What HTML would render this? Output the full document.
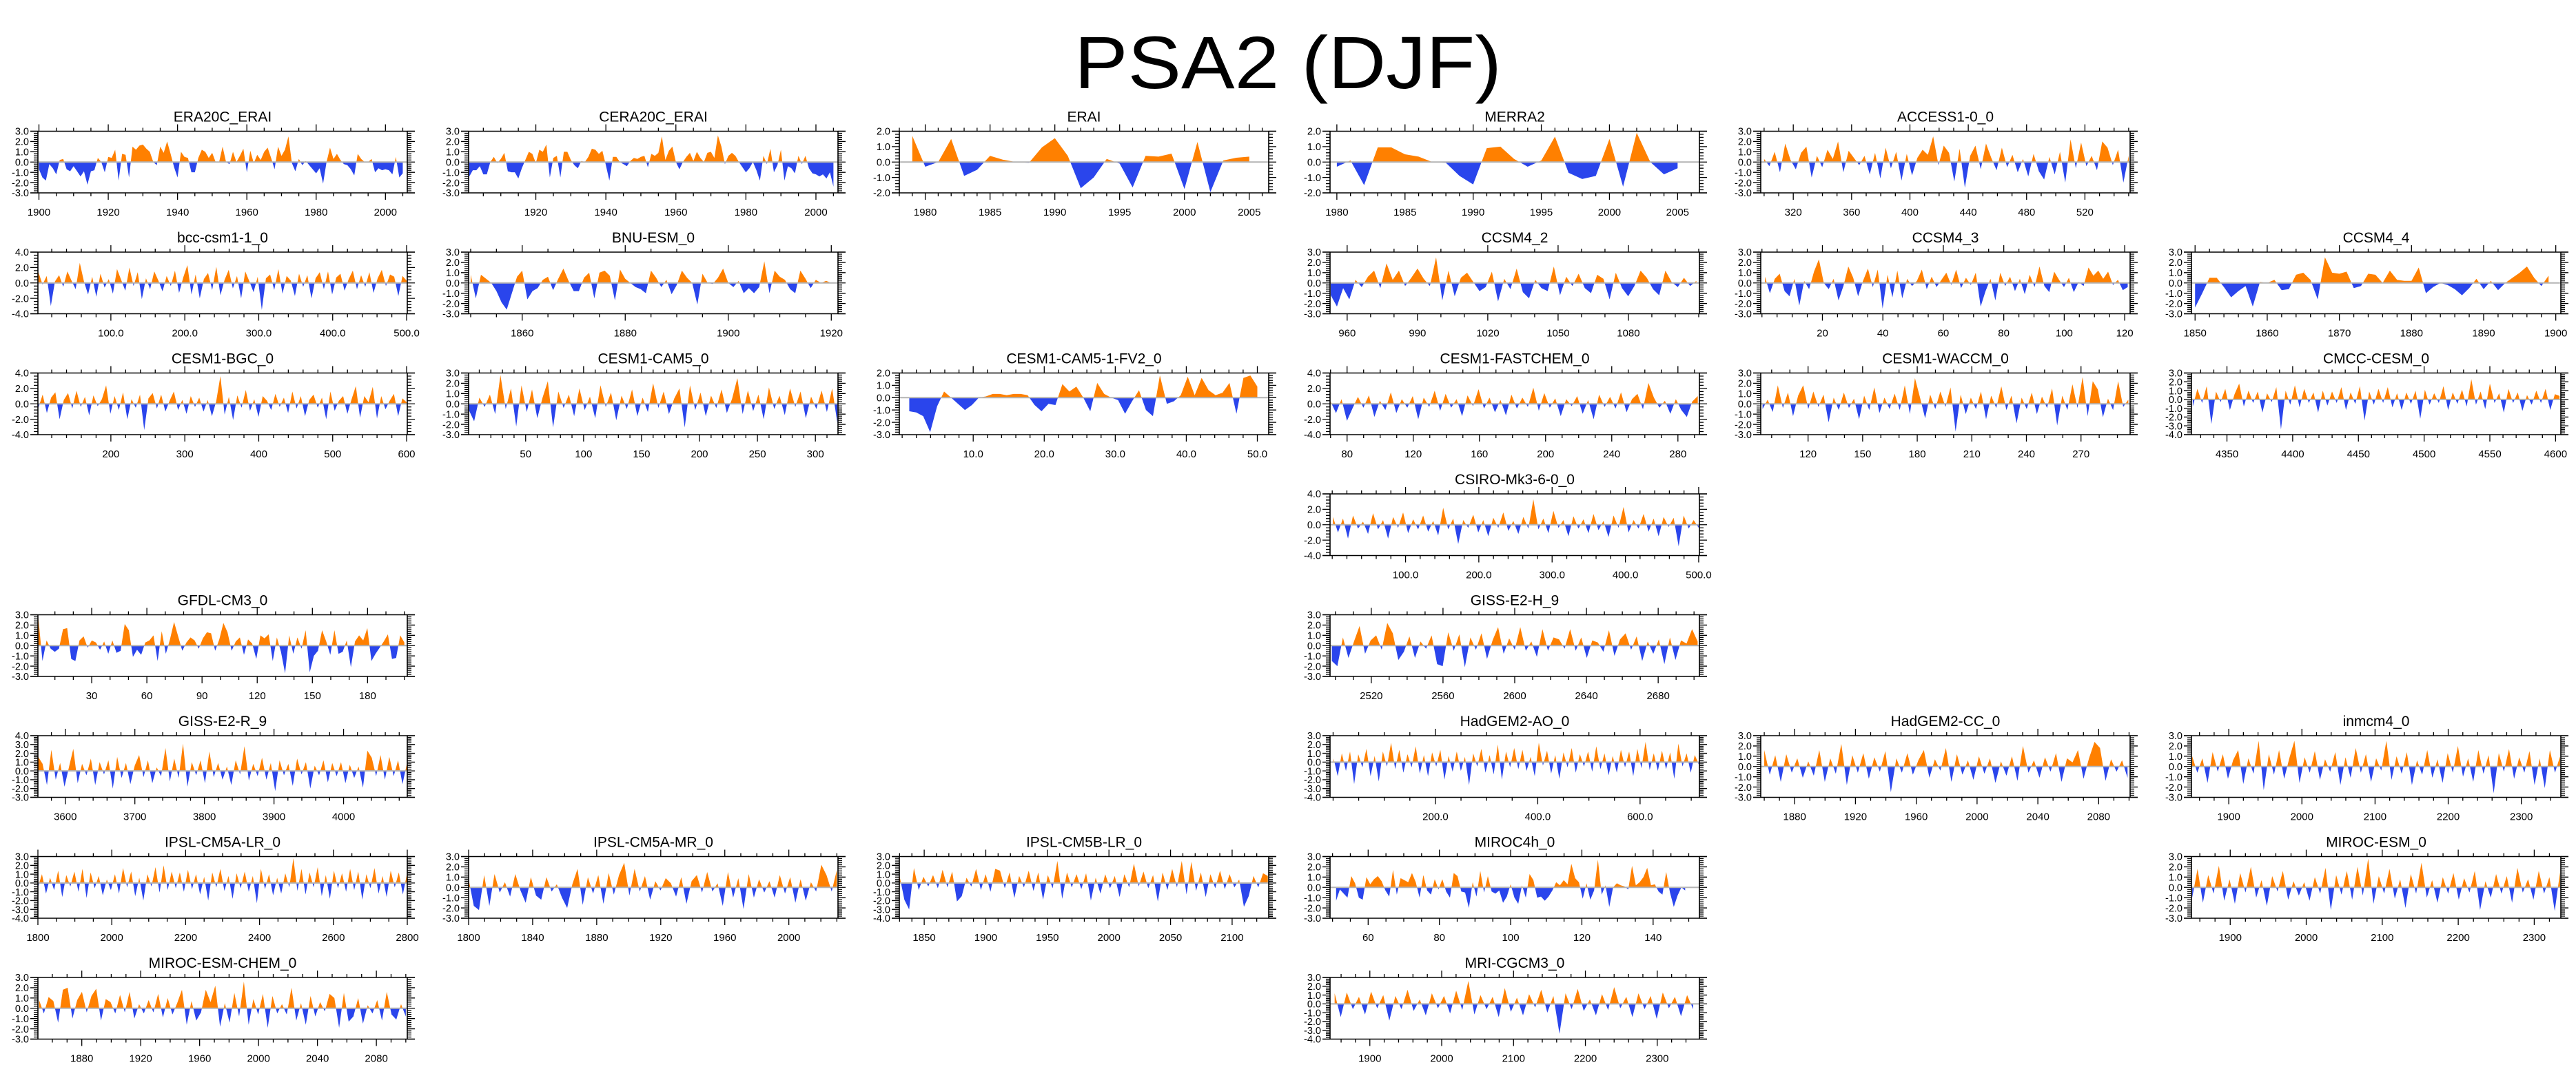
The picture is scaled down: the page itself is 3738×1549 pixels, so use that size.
<!DOCTYPE html>
<html><head><meta charset="utf-8"><title>PSA2 (DJF)</title>
<style>
html,body{margin:0;padding:0;background:#fff;}
svg{display:block;font-family:"Liberation Sans",Arial,sans-serif;}
</style></head>
<body>
<svg id="fig" width="3738" height="1549" viewBox="0 0 3738 1549" xmlns="http://www.w3.org/2000/svg">
<rect x="0" y="0" width="3738" height="1549" fill="#fff"/>
<text x="1869" y="128" text-anchor="middle" font-size="108" textLength="620" lengthAdjust="spacingAndGlyphs">PSA2 (DJF)</text>
<g id="panels"></g>
</svg>
<script>
const era20cValues=[-0.7,-1.5,-1.8,-0.2,-0.6,-1.2,0.2,0.3,-0.7,-0.9,-0.4,-0.9,-1.4,-0.9,-2.2,-0.9,-0.8,0.4,0.0,-1.0,0.5,0.4,1.2,-1.8,0.8,0.7,-1.5,1.5,1.2,1.6,1.7,1.3,1.0,0.0,-0.3,1.5,0.9,2.0,0.8,-0.5,-1.5,1.0,0.5,0.4,-1.0,-1.0,0.4,1.2,1.0,0.4,0.9,0.0,0.0,1.5,0.0,-0.2,1.0,0.0,0.6,1.3,-1.0,1.1,-0.1,0.7,0.2,1.0,1.4,0.4,-0.7,1.5,0.6,1.2,2.5,-0.1,-0.9,0.3,-0.3,0.1,-0.3,-0.7,-1.1,-0.6,-2.1,0.0,1.4,0.3,0.8,0.2,-0.2,-0.3,-0.7,-1.3,0.8,0.3,0.0,0.0,0.3,-1.0,-0.6,-0.8,-0.7,-0.8,-1.2,0.5,-1.5,-1.1];
const cera20cValues=[-1.4,-0.8,-0.8,-0.4,-1.2,-1.2,0.0,0.5,-0.1,0.3,0.9,-0.9,-1.0,-1.0,-1.6,-0.6,0.2,1.0,0.8,-0.1,1.2,1.0,1.7,-1.5,0.4,0.6,-1.5,1.0,1.0,0.2,-0.3,-0.6,0.1,0.0,0.5,1.3,1.2,0.8,1.1,-0.3,-1.8,0.5,0.5,0.0,-0.2,-0.4,0.1,0.4,0.3,0.5,0.6,-0.5,0.8,0.6,0.9,2.5,0.2,1.1,1.5,0.0,-0.7,0.0,0.5,0.9,0.1,1.0,0.4,0.0,0.9,1.0,0.4,2.6,1.5,-0.2,0.6,0.9,0.6,0.0,-0.5,-1.0,-0.6,0.0,-0.8,-1.8,0.6,-0.2,1.3,-1.0,-0.3,1.2,-1.8,-0.4,-0.6,-1.1,0.6,-0.2,0.6,-0.6,-1.1,-1.2,-1.4,-1.2,-1.6,-1.0,-2.4];
const eraiValues=[1.7,-0.3,0.0,1.5,-0.9,-0.5,0.4,0.15,0.0,-0.05,0.95,1.55,0.4,-1.7,-1.0,0.2,-0.1,-1.65,0.4,0.35,0.55,-1.75,1.3,-1.95,0.1,0.28,0.35];
const merra2Values=[-0.3,0.1,-1.5,0.95,0.95,0.5,0.35,0.0,-0.05,-0.9,-1.45,0.9,1.0,0.2,-0.3,0.1,1.65,-0.7,-1.1,-0.9,1.5,-1.6,1.9,0.0,-0.8,-0.4];
const access10Values=[0.3,-0.4,1.0,-1.0,1.8,0.2,-0.7,0.9,1.5,-1.5,0.6,-0.5,1.2,0.3,2.0,-1.0,1.1,0.4,-0.3,0.6,-1.2,0.9,-1.6,1.4,-0.6,1.0,-1.8,0.8,-1.3,0.4,1.2,0.7,2.5,-0.3,1.6,0.9,-1.9,1.3,-2.5,0.6,1.6,-0.7,1.8,0.4,-0.8,1.4,-0.5,0.7,-1.0,0.3,-1.4,0.8,-0.9,-1.7,0.5,-1.2,1.0,-2.0,2.2,-0.6,1.9,-0.4,0.6,-0.8,2.0,1.4,-0.3,1.2,-2.0,0.6];
const bccValues=[1.4,-0.2,0.9,-3.0,0.2,1.0,-0.5,1.5,0.3,-0.8,2.6,0.2,-1.5,0.8,-1.8,1.2,-0.6,0.5,-1.4,1.8,0.4,-1.0,2.0,-0.4,1.4,-2.1,0.6,-0.8,1.5,0.3,-1.1,0.9,-0.4,1.6,-1.3,0.7,2.3,-1.5,1.1,-2.0,0.5,1.3,-0.9,2.1,-1.6,0.4,1.7,-0.7,0.9,-2.0,1.5,0.2,-1.2,0.8,-3.5,0.6,1.1,-0.9,1.8,-1.4,0.9,0.3,-1.7,1.2,-0.5,1.0,-2.0,0.6,1.4,-0.8,1.5,-1.5,0.7,1.2,-1.0,0.5,1.6,-0.8,1.0,-0.5,1.4,-1.3,0.6,1.7,-0.4,1.1,0.8,-1.7,0.9,0.3];
const bnuValues=[0.8,-1.5,0.8,0.4,0.0,-0.8,-1.9,-2.6,-1.0,0.6,1.2,-1.6,-0.8,-0.5,0.3,0.6,-0.7,0.4,1.4,0.2,-0.8,-0.8,0.5,1.0,-1.5,1.0,1.2,0.7,-1.7,1.3,0.4,0.0,-0.4,-0.6,-1.0,1.2,0.5,-0.4,0.3,-1.1,-0.2,1.2,0.5,0.0,-2.1,0.9,0.0,-0.1,0.5,1.4,0.0,-0.4,0.2,-1.0,-0.5,-1.0,-0.4,2.1,-1.0,1.2,0.6,0.3,-0.6,-1.0,1.2,0.4,-0.5,0.3,0.0,0.2,0.0];
const ccsm42Values=[-1.2,-2.3,-0.5,-1.6,0.3,-0.4,0.6,1.2,-0.5,1.9,0.3,1.2,-0.3,0.5,1.4,0.4,-0.3,2.5,-1.7,1.2,-1.3,0.5,1.0,0.1,-0.8,-0.4,1.1,-1.8,0.4,-0.6,1.4,-0.9,-1.5,0.3,-0.5,-0.8,1.6,-1.2,0.6,-0.3,0.9,-0.5,-1.0,0.8,0.4,-1.6,1.0,-0.5,-1.3,-0.3,1.2,0.5,-0.6,-1.2,1.2,0.1,-0.4,0.5,-0.3,0.2];
const ccsm43Values=[0.6,-1.0,0.4,0.9,-0.8,-1.3,0.4,-2.2,0.2,-0.6,1.1,2.3,0.0,-0.6,0.4,-1.7,-0.3,1.6,0.5,-1.3,0.2,1.4,-0.4,1.3,-2.5,0.8,-1.4,1.2,-1.5,0.4,-0.3,0.2,1.3,-0.6,0.6,-0.4,0.3,1.0,-0.2,1.3,-0.5,0.5,-0.2,1.0,-2.3,-0.8,0.4,-1.7,1.0,-0.3,0.6,-0.8,0.4,-1.1,0.8,-0.4,1.6,-0.3,-0.9,1.1,0.3,-0.4,0.5,-0.9,0.1,-0.3,1.5,0.7,1.2,0.4,1.1,-0.2,0.3,-0.7,-0.4];
const ccsm44Values=[-2.4,-1.0,0.5,0.5,-0.4,-1.4,-0.8,-0.3,-2.3,0.1,0.0,0.3,-0.7,-0.6,0.8,1.0,0.3,-1.6,2.5,1.0,0.9,1.1,-0.5,-0.3,0.9,0.8,0.0,1.2,0.3,0.2,0.2,1.5,-1.0,-0.4,0.0,-0.2,-0.6,-1.2,-0.5,0.4,-0.6,0.2,-0.7,0.0,0.5,1.0,1.6,0.5,-0.3,0.7];
const cesmBgcValues=[-0.5,1.2,-1.2,0.8,1.5,-2.0,0.5,1.4,-0.6,1.7,-0.4,0.9,-1.5,1.1,-0.3,0.6,2.4,-1.3,1.0,-0.8,1.5,-2.0,0.6,-0.5,1.2,-3.4,0.7,1.4,-0.6,1.2,-1.0,0.4,1.6,-0.8,0.5,-1.3,1.0,-0.4,0.8,-1.0,0.5,-1.6,0.3,3.6,-1.4,0.9,-2.1,1.1,-0.5,1.8,-0.9,0.6,-1.7,1.0,0.4,-0.8,1.3,-0.4,0.8,-1.2,1.6,-0.6,1.0,-1.6,0.5,1.2,-0.5,0.8,-2.0,1.6,-0.9,0.4,1.0,-1.3,0.6,2.3,-1.8,1.0,0.2,2.2,-1.9,1.0,-0.7,0.4,1.3,-1.6,0.7,0.2];
const cesmCam5Values=[-0.6,-1.7,0.6,-0.3,0.9,-1.0,2.8,-0.5,1.5,-2.2,1.8,-0.8,1.4,-1.4,0.6,2.2,-2.3,1.2,-0.4,0.9,-1.2,1.5,-0.6,0.7,-1.4,1.8,-0.3,1.1,-1.6,0.8,-0.5,1.4,-1.2,0.6,-0.8,2.0,-0.4,1.2,-1.0,0.5,1.5,-2.3,1.8,-0.6,1.1,-1.2,0.8,-0.4,1.4,-0.9,0.5,2.5,-1.0,1.3,-0.7,0.9,-1.5,1.6,-0.5,0.8,-1.1,1.5,-0.3,1.2,-1.4,0.7,-0.5,1.3,-0.8,1.5,-1.9];
const fv2Values=[-1.1,-1.2,-1.5,-2.8,-0.7,0.5,0.0,-0.5,-1.0,-0.6,0.0,0.1,0.3,0.3,0.2,0.3,0.3,0.2,-0.6,-1.1,-0.5,-0.6,1.1,0.5,0.9,0.0,-1.1,1.2,0.3,0.0,-0.2,-1.3,-0.3,0.6,-1.0,-1.5,1.8,-0.5,-0.3,0.2,1.7,0.2,1.6,0.6,0.2,0.4,1.2,-1.3,1.6,1.8,0.9];
const fastchemValues=[0.3,-1.2,0.6,-2.2,-0.6,0.9,-0.5,1.1,-1.7,0.4,-0.8,1.5,-1.2,0.6,-0.5,1.0,-2.0,0.8,-0.4,1.7,-0.9,1.3,-0.5,0.6,-1.6,1.1,-0.3,1.9,-0.6,0.8,-1.1,0.5,-1.5,1.2,-0.6,0.8,-0.4,2.1,-0.9,1.4,-0.5,0.7,-1.6,0.6,-0.3,1.0,-1.3,0.5,-2.0,1.2,-0.4,0.9,-0.6,1.5,-1.1,0.6,1.3,-0.7,2.7,0.8,-0.5,0.4,-1.3,0.6,-0.8,-1.7,0.3,1.0];
const waccmValues=[-0.5,0.4,-0.8,1.8,-0.4,1.1,-1.2,0.8,1.8,-0.5,1.2,-0.3,0.9,-1.8,0.6,-0.6,1.1,-0.4,0.5,-1.5,0.8,-0.6,1.6,-0.9,0.6,-0.5,1.0,-0.6,1.8,-1.0,2.5,0.6,-1.4,0.9,-0.5,1.2,-0.3,1.6,-2.7,0.9,-1.0,0.6,-0.5,1.2,-1.5,0.8,-0.4,1.7,-0.6,0.8,-1.9,0.6,-0.5,1.1,-1.0,0.7,-0.4,1.5,-2.1,0.8,-0.6,1.9,-0.4,2.6,-1.2,2.2,1.4,-1.3,0.5,-0.6,2.2,-0.3,0.4];
const cmccValues=[-0.8,1.2,-0.4,1.5,-2.8,0.9,-0.3,1.2,-1.2,0.6,1.8,-0.8,1.0,-0.4,0.9,-1.5,0.7,-0.3,1.4,-3.4,1.0,-0.6,1.6,-0.9,1.2,-0.4,0.8,-1.5,1.0,-0.7,0.9,-0.4,1.4,-1.2,0.8,-0.5,1.5,-2.4,0.9,-0.6,1.2,-0.4,1.4,-0.9,0.7,-1.2,0.8,-0.5,1.0,-2.2,1.1,-0.6,0.7,-0.4,1.5,-1.2,0.8,-0.5,1.1,-0.8,2.3,-0.6,0.9,-1.1,1.8,-0.4,0.7,-1.5,1.2,-0.4,0.8,-1.3,0.5,-0.6,1.0,-0.4,1.2,-1.2,0.6,0.4];
const csiroValues=[1.0,-1.0,0.8,-1.8,1.2,-0.5,0.4,-1.2,1.5,-0.6,0.6,-1.8,1.0,-0.4,1.6,-1.1,0.7,-0.6,1.2,-0.9,0.5,-1.4,2.2,-0.6,0.8,-2.5,0.6,-0.4,1.3,-1.0,0.6,-1.5,0.9,-0.4,1.6,-0.8,0.5,-1.2,1.0,-0.5,3.3,-0.6,0.8,-1.1,1.8,-0.4,0.6,-1.5,1.1,-0.5,0.7,-1.1,1.4,-0.7,0.5,-1.6,1.2,-0.4,2.3,-1.0,0.6,-0.5,1.4,-0.9,0.8,-1.5,1.0,-0.3,0.9,-2.8,1.2,-0.5,0.6,-0.4];
const gfdlValues=[2.7,-1.5,0.5,-0.3,-0.6,-0.3,1.6,1.7,-1.3,-1.5,0.5,0.9,-0.2,0.5,0.3,-0.4,0.4,-0.8,0.5,-0.7,-0.5,2.1,1.5,-1.1,-0.4,-0.9,0.3,0.5,1.0,-1.5,1.4,-0.8,0.6,2.3,0.9,-0.5,0.3,0.8,0.5,-0.3,0.7,1.3,1.2,-0.5,0.6,2.2,1.3,-0.5,0.4,0.8,-0.9,0.6,0.2,-1.3,1.0,0.7,1.1,-1.5,0.8,-0.6,-2.7,1.0,-0.8,0.8,-0.3,1.5,-2.6,-1.0,-0.5,1.5,0.4,-0.9,1.5,-0.8,-0.6,0.5,-2.1,0.4,1.0,0.5,1.7,-1.5,-0.8,-0.2,0.4,1.1,-1.3,-1.2,1.0,0.3];
const gissHValues=[-1.5,-2.0,0.8,-1.2,0.4,1.9,-0.8,0.5,1.0,-0.4,2.2,1.2,-1.4,-0.6,0.9,-1.2,0.4,-0.3,1.0,-1.8,-2.0,1.3,-0.5,1.1,-2.1,0.8,-0.4,1.2,-1.3,0.5,1.8,-0.8,0.7,-0.4,1.8,-0.5,0.4,-1.1,1.6,-0.5,0.8,0.6,-0.3,1.6,-0.5,0.8,-1.2,0.5,0.3,-0.6,1.5,-1.0,0.6,1.2,-0.4,0.9,-1.5,0.4,-0.8,0.6,-1.8,0.8,-1.4,0.5,0.2,1.6,0.4];
const gissRValues=[1.6,0.8,-1.6,2.4,-1.0,0.9,-1.8,0.4,2.5,-1.4,0.8,-0.5,1.4,-1.6,1.0,-0.4,1.2,-2.0,1.6,-0.8,0.9,-1.5,0.6,1.8,-0.7,1.2,-1.4,0.4,-0.6,2.6,-1.2,1.4,-0.8,3.1,-1.8,1.0,-0.5,1.2,-1.4,2.2,-0.7,0.9,-1.0,0.5,-1.6,1.2,-0.4,2.8,-1.1,0.8,-0.6,1.5,-1.0,0.9,-2.3,1.2,-0.5,0.8,-1.7,1.4,-0.4,1.0,-2.0,0.6,-0.5,1.2,-1.3,0.9,-0.6,1.0,-1.4,0.7,-0.8,0.5,-1.9,2.3,1.5,-0.6,1.8,-1.0,1.6,-0.6,1.2,-1.5,0.8];
const hadAoValues=[0.4,-1.6,1.0,-1.0,1.2,-2.5,0.9,-0.6,1.5,-1.6,0.7,-2.2,1.2,-0.5,2.2,-0.8,1.4,-1.2,0.9,-0.6,1.8,-1.3,0.8,-1.6,1.1,-0.5,1.4,-2.0,0.7,-1.1,1.2,-1.0,0.6,-2.6,1.0,-0.5,1.5,-1.2,0.8,-1.4,2.0,-2.0,1.2,-0.6,1.6,-0.8,1.4,-1.0,0.6,-1.6,2.2,-0.4,1.3,-1.3,0.8,-1.9,1.1,-0.6,1.6,-1.2,0.9,-0.5,1.2,-1.1,1.8,-0.8,1.0,-1.5,0.7,-1.2,1.4,-0.6,1.2,-1.6,1.5,-0.7,2.3,-0.9,1.0,-1.0,1.3,-0.8,1.1,-1.9,2.1,-0.5,1.0,-1.2,0.8,-0.3];
const hadCcValues=[1.6,-0.8,1.1,-1.5,1.2,-0.6,0.8,-1.1,0.5,-0.9,1.6,-1.5,0.8,-0.7,2.2,-1.8,1.1,-0.6,1.3,-1.2,0.9,-0.5,1.5,-2.5,0.8,-0.6,1.3,-0.8,0.6,1.6,-1.1,0.7,-0.4,1.8,-1.5,1.2,-0.8,0.6,-1.3,1.0,-0.7,0.8,-1.6,0.5,-0.9,1.0,-1.4,2.0,-0.6,0.6,-1.1,0.9,-0.5,1.3,-1.5,0.8,0.4,1.6,-1.2,0.8,2.4,1.8,-1.4,0.7,-0.5,0.6,-1.1];
const inmcmValues=[1.0,-0.6,0.8,-1.6,1.4,-0.5,1.2,-1.2,0.6,1.6,-1.7,0.8,-0.7,2.5,-2.3,1.2,-0.8,1.6,-1.2,0.8,2.5,-1.6,0.9,-0.6,1.5,-1.3,0.7,-0.5,1.4,-1.8,0.9,-1.1,1.8,-0.6,1.2,-1.5,0.8,-0.4,2.5,-1.3,1.0,-0.7,1.4,-1.8,0.6,-0.8,1.6,-1.1,0.7,-1.6,1.3,-0.6,2.0,-1.0,0.8,-1.5,1.6,-0.7,1.1,-2.6,1.3,-0.5,1.7,-1.2,0.9,-0.6,1.5,-1.8,0.8,-2.1,1.6,-0.6,1.0];
const ipslLrValues=[-0.5,1.0,-1.2,0.6,-0.8,1.4,-1.6,0.9,-0.4,1.3,-1.0,1.6,-1.7,1.2,-0.6,0.8,-1.4,0.4,-0.8,1.0,-1.2,1.7,-0.5,1.3,-1.5,0.6,-2.0,1.0,-0.4,1.8,-1.1,2.0,-0.8,1.3,-0.6,1.2,-1.0,1.5,-0.7,1.0,-1.3,0.7,-2.0,1.2,-0.5,1.6,-0.9,0.8,-1.8,1.1,-0.6,1.3,-1.0,0.8,-2.3,1.6,-0.7,1.0,-1.4,0.6,-1.2,1.1,-0.5,2.8,-0.9,1.6,-1.3,1.2,-0.5,1.8,-1.5,0.9,-1.8,1.4,-0.6,1.1,-1.0,1.6,-0.8,1.3,-1.9,1.0,-0.6,1.7,-1.2,0.8,-1.6,1.4,-0.5,1.2,-1.3,1.0];
const ipslMrValues=[0.8,-1.8,-2.2,1.2,-1.8,1.3,-0.5,0.5,-0.9,1.3,-0.3,-1.5,1.0,-0.8,-1.2,1.0,-0.4,0.3,-1.0,-2.0,0.3,1.8,-1.7,1.0,-0.6,1.2,-1.6,1.4,-0.7,1.2,2.4,-0.8,1.8,-0.4,1.1,-1.2,0.6,-0.3,0.9,0.4,-0.9,1.0,-1.6,0.6,1.2,-0.5,1.5,-0.4,0.4,-1.8,1.5,-1.0,0.9,-2.1,1.3,-1.0,0.8,-0.5,0.6,-1.0,1.2,-0.6,1.0,-1.5,0.8,-1.3,0.5,-0.4,2.2,1.2,-0.4,1.7];
const ipslBValues=[0.8,-1.9,-3.0,1.7,-0.8,0.7,-0.4,0.9,-0.6,1.5,-0.5,1.3,-2.1,-1.5,0.6,-0.4,1.6,-0.8,1.0,-1.0,1.6,1.4,-0.6,1.2,-1.7,0.8,-0.5,1.4,-0.9,1.2,-1.9,0.9,-0.6,2.5,-1.8,1.2,-0.5,1.0,-0.7,1.1,-2.0,0.6,-1.2,1.0,-0.6,0.8,-1.6,1.0,-0.5,2.2,-0.4,1.3,-0.6,0.9,-2.1,1.2,-0.8,1.6,-0.5,2.5,-1.3,2.4,-0.9,1.2,-1.6,1.0,-0.6,1.4,-0.7,1.0,-0.5,0.4,-2.7,-1.5,0.8,-0.5,1.1,0.8];
const miroc4hValues=[-1.3,-0.2,-0.6,-1.0,1.1,0.4,-1.0,-1.2,1.0,0.3,0.8,1.1,0.6,-0.3,-0.9,1.7,-0.7,0.9,0.7,0.5,1.4,0.5,-1.0,1.2,-0.3,-0.7,0.8,-0.2,0.8,-0.4,-1.0,1.4,1.1,-0.4,-0.5,-2.0,0.5,-0.9,1.6,-0.5,1.1,-0.4,-0.6,-0.3,-1.5,-0.9,0.3,-1.0,-1.6,0.2,-1.0,1.3,0.7,-1.0,-0.9,-1.3,-0.9,-0.3,0.5,0.2,0.7,0.3,2.3,0.9,0.5,-1.1,0.4,-1.2,-0.3,2.7,-0.7,0.2,-1.9,0.0,0.4,0.2,0.1,-0.2,2.1,0.2,0.5,1.0,1.9,0.2,0.3,-0.4,-0.7,1.5,-0.5,-1.9,-0.8,0.0,-0.3];
const mirocEsmValues=[-1.0,1.8,-1.5,1.2,-0.6,2.1,-1.3,0.8,-1.6,1.4,-0.5,2.0,-1.0,0.7,-1.8,1.1,-0.4,1.6,-1.2,0.6,-0.8,0.5,-1.3,1.0,-0.6,1.9,-2.2,1.2,-0.7,1.6,-1.2,2.0,-0.8,2.8,-1.6,1.1,-0.6,1.8,-1.1,0.8,-2.0,1.3,-0.6,2.4,-1.0,0.7,-1.5,1.0,-0.6,1.4,-1.2,0.9,-0.5,1.6,-2.2,0.6,-1.0,1.3,-0.6,1.1,-1.5,1.9,-0.5,0.8,-1.2,1.6,-0.6,1.0,-2.3,1.5];
const mirocChemValues=[0.8,-0.5,1.1,0.7,-1.4,1.8,2.0,-1.0,0.8,1.6,-0.4,1.2,1.9,-1.2,0.9,0.6,-0.5,1.3,-0.4,1.6,-1.0,0.4,-0.5,0.8,-0.4,1.4,-0.9,1.0,-0.6,0.5,1.8,-1.6,0.7,-1.2,-0.4,1.8,0.6,2.2,-1.8,0.5,-1.4,1.5,-0.8,2.6,-1.6,0.9,-0.6,1.4,-1.9,1.2,-0.5,0.4,-0.6,2.0,-1.2,0.5,-1.6,1.2,-0.8,0.6,-0.3,1.4,1.0,-1.9,1.5,-1.3,-0.8,1.0,-1.5,0.3,-0.5,0.8,-1.2,1.6,-0.6,-1.1,0.4,-0.8];
const mriValues=[1.2,-1.5,1.3,-0.6,0.8,-1.2,1.4,-0.5,1.0,-1.9,0.9,-0.6,1.6,-0.8,0.5,-1.3,1.2,-0.5,0.9,-1.1,1.5,-0.7,2.6,-1.2,1.0,-0.6,0.8,-1.5,1.8,-0.9,0.7,-1.3,1.1,-0.4,1.6,-1.0,0.9,-3.4,1.2,-0.6,1.7,-0.8,0.5,-1.3,1.1,-0.7,1.9,-0.5,0.8,-1.5,1.2,-0.6,0.9,-1.7,1.3,-0.5,0.8,-1.4,1.0,-0.6];

const panelNames=['ERA20C_ERAI','CERA20C_ERAI','ERAI','MERRA2','ACCESS1-0_0','bcc-csm1-1_0','BNU-ESM_0','CCSM4_2','CCSM4_3','CCSM4_4','CESM1-BGC_0','CESM1-CAM5_0','CESM1-CAM5-1-FV2_0','CESM1-FASTCHEM_0','CESM1-WACCM_0','CMCC-CESM_0','CSIRO-Mk3-6-0_0','GFDL-CM3_0','GISS-E2-H_9','GISS-E2-R_9','HadGEM2-AO_0','HadGEM2-CC_0','inmcm4_0','IPSL-CM5A-LR_0','IPSL-CM5A-MR_0','IPSL-CM5B-LR_0','MIROC4h_0','MIROC-ESM_0','MIROC-ESM-CHEM_0','MRI-CGCM3_0'];
const panelSeries=[era20cValues,cera20cValues,eraiValues,merra2Values,access10Values,bccValues,bnuValues,ccsm42Values,ccsm43Values,ccsm44Values,cesmBgcValues,cesmCam5Values,fv2Values,fastchemValues,waccmValues,cmccValues,csiroValues,gfdlValues,gissHValues,gissRValues,hadAoValues,hadCcValues,inmcmValues,ipslLrValues,ipslMrValues,ipslBValues,miroc4hValues,mirocEsmValues,mirocChemValues,mriValues];
// axis domains: [xmin,xmax,dataStart,dataEnd,tickStart,tickEnd,tickStep,decimals,ymin,ymax,ystep]
const panelAxes=[
[1899.7,2006.3,1900,2005,1900,2000,20,0,-3,3,1],
[1900.8,2006.3,1901,2005,1920,2000,20,0,-3,3,1],
[1978,2006.5,1979,2005,1980,2005,5,0,-2,2,1],
[1979.5,2006.6,1980,2005,1980,2005,5,0,-2,2,1],
[297.7,551,300,550,320,520,40,0,-3,3,1],
[1.3,500.9,2,500,100,500,100,1,-4,4,2],
[1849.6,1921.3,1850,1920,1860,1920,20,0,-3,3,1],
[952.7,1110.3,953,1109,960,1080,30,0,-3,3,1],
[-0.4,121.8,1,121,20,120,20,0,-3,3,1],
[1849.5,1900.7,1850,1899,1850,1900,10,0,-3,3,1],
[101.3,600.9,102,600,200,600,100,0,-4,4,2],
[0.8,319.5,1,319,50,300,50,0,-3,3,1],
[-0.4,51.6,1,50,10,50,10,1,-3,2,1],
[69.7,293,70,292,80,280,40,0,-4,4,2],
[94,297,95,296,120,270,30,0,-3,3,1],
[4323,4604,4324,4603,4350,4600,50,0,-4,3,1],
[-3,501,1,500,100,500,100,1,-4,4,2],
[0.75,201.6,1,200,30,180,30,0,-3,3,1],
[2497,2703,2498,2702,2520,2680,40,0,-3,3,1],
[3560.6,4091.6,3561,4091,3600,4000,100,0,-3,4,1],
[-6,716,1,715,200,600,200,1,-4,3,1],
[1857.7,2100.7,1860,2099,1880,2080,40,0,-3,3,1],
[1849,2354,1850,2353,1900,2300,100,0,-3,3,1],
[1800,2800,1800,2799,1800,2800,200,0,-4,3,1],
[1800,2030.7,1800,2030,1800,2000,40,0,-3,3,1],
[1829.8,2129.7,1830,2129,1850,2100,50,0,-4,3,1],
[49.3,153,51,149,60,140,20,0,-3,3,1],
[1849,2335,1850,2334,1900,2300,100,0,-3,3,1],
[1850.2,2101,1851,2100,1880,2080,40,0,-3,3,1],
[1844.6,2358.7,1851,2350,1900,2300,100,0,-4,3,1]];
const panelGrid=[[0,0],[0,1],[0,2],[0,3],[0,4],[1,0],[1,1],[1,3],[1,4],[1,5],[2,0],[2,1],[2,2],[2,3],[2,4],[2,5],[3,3],[4,0],[4,3],[5,0],[5,3],[5,4],[5,5],[6,0],[6,1],[6,2],[6,3],[6,5],[7,0],[7,3]];

const NS='http://www.w3.org/2000/svg';
const root=document.getElementById('panels');
const PW=536, PH=89.5;
function mk(tag,parent,attrs){const e=document.createElementNS(NS,tag);for(const k in attrs)e.setAttribute(k,attrs[k]);parent.appendChild(e);return e;}
function slug(s){return s.toLowerCase().replace(/[^a-z0-9]+/g,'-').replace(/-+$/,'');}
function divs(step){const d=String(step).replace(/[^1-9]/g,'')[0];return {1:5,2:4,3:3,4:4,5:5}[d]||5;}

panelNames.forEach(function(name,i){
  const ax=panelAxes[i], vals=panelSeries[i];
  const r=panelGrid[i][0], c=panelGrid[i][1];
  const L=55+c*625, T=190.5+r*175.5;
  const [x0,x1,d0,d1,t0,t1,ts,dec,y0,y1,ys]=ax;
  const sx=v=>L+(v-x0)/(x1-x0)*PW;
  const sy=v=>T+(y1-v)/(y1-y0)*PH;
  const id=slug(name);
  const g=mk('g',root,{});
  
  
  const defs=mk('defs',g,{});
  const cpU=mk('clipPath',defs,{id:'up'+i});
  mk('rect',cpU,{x:L,y:T,width:PW,height:sy(0)-T});
  const cpD=mk('clipPath',defs,{id:'dn'+i});
  mk('rect',cpD,{x:L,y:sy(0),width:PW,height:T+PH-sy(0)});
  const n=vals.length;
  let d='M'+sx(d0).toFixed(2)+','+sy(0).toFixed(2);
  vals.forEach(function(v,k){const xv=d0+(n>1?k*(d1-d0)/(n-1):0);d+=' L'+sx(xv).toFixed(2)+','+sy(v).toFixed(2);});
  d+=' L'+sx(d1).toFixed(2)+','+sy(0).toFixed(2)+' Z';
  const pos=mk('path',g,{d:d,fill:'#ff8000','clip-path':'url(#up'+i+')'});
  
  
  const neg=mk('path',g,{d:d,fill:'#2a45ec','clip-path':'url(#dn'+i+')'});
  
  
  const zl=mk('line',g,{x1:L,x2:L+PW,y1:sy(0),y2:sy(0),stroke:'#b4b4b4','stroke-width':2});
  
  
  const fr=mk('path',g,{d:'M'+(L-11)+','+T+' H'+(L+PW+11)+' M'+(L-11)+','+(T+PH)+' H'+(L+PW+11)+' M'+L+','+T+' V'+(T+PH)+' M'+(L+PW)+','+T+' V'+(T+PH),stroke:'#000','stroke-width':1.6,fill:'none'});
  
  
  let tk='';
  const xm=ts/divs(ts);
  for(let v=Math.ceil((x0-1e-9)/xm)*xm; v<=x1+1e-9; v+=xm){
    const isMaj=Math.abs(((v-t0)/ts)-Math.round((v-t0)/ts))<1e-6 && v>=t0-1e-6 && v<=t1+1e-6;
    const len=isMaj?10:5, X=sx(v).toFixed(2);
    tk+='M'+X+','+T+' v'+(-len)+' M'+X+','+(T+PH)+' v'+len+' ';
  }
  const ym=ys/5;
  for(let v=y0; v<=y1+1e-9; v+=ym){
    const isMaj=Math.abs((v-y0)/ys-Math.round((v-y0)/ys))<1e-6;
    const len=isMaj?11:6, Y=sy(v).toFixed(2);
    tk+='M'+L+','+Y+' h'+(-len)+' M'+(L+PW)+','+Y+' h'+len+' ';
  }
  const tp=mk('path',g,{d:tk,stroke:'#000','stroke-width':1.3,fill:'none'});
  
  
  for(let v=t0; v<=t1+1e-9; v+=ts){
    const t=mk('text',g,{x:sx(v).toFixed(2),y:T+PH+33,'text-anchor':'middle','font-size':15});
    t.textContent=v.toFixed(dec);
    
    
  }
  for(let v=y0; v<=y1+1e-9; v+=ys){
    const t=mk('text',g,{x:L-13,y:(sy(v)+5.2).toFixed(2),'text-anchor':'end','font-size':14.5});
    t.textContent=(Math.abs(v)<1e-9?0:v).toFixed(1);
    
    
  }
  const tt=mk('text',g,{x:L+PW/2,y:T-14,'text-anchor':'middle','font-size':21});
  tt.textContent=name;
  
  
});
</script>
</body></html>
